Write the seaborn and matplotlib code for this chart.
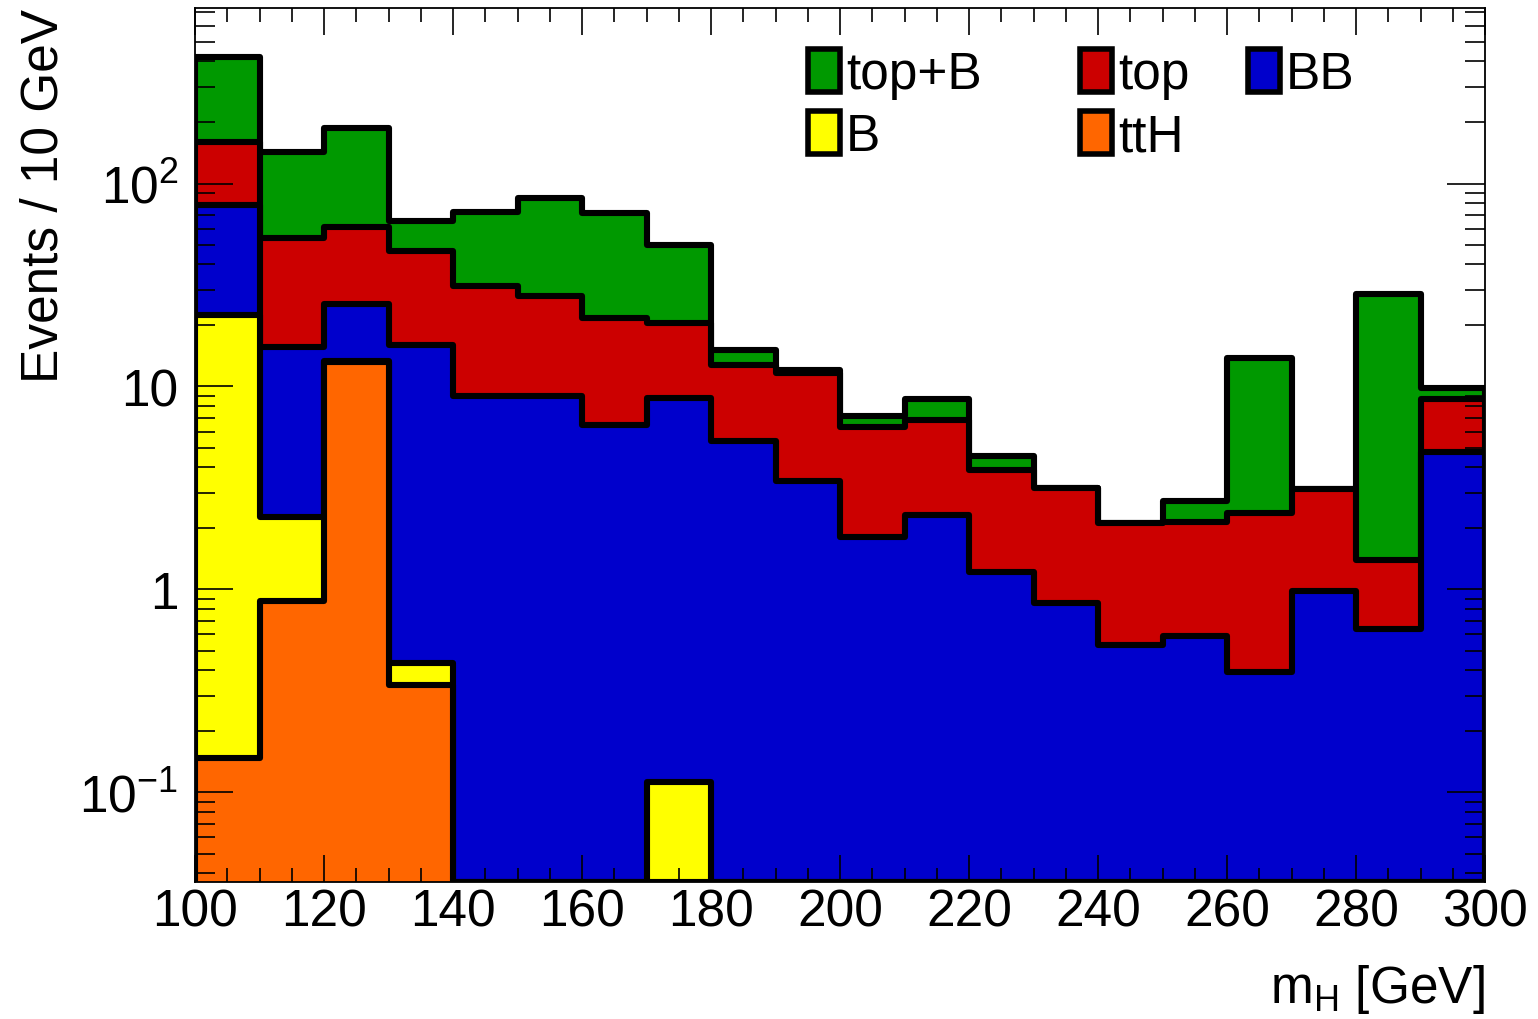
import numpy as np
import pandas as pd
import matplotlib
matplotlib.use("Agg")
import matplotlib.pyplot as plt
import matplotlib.patches as mpatches
from matplotlib.legend import Legend
from matplotlib.ticker import FixedLocator, FixedFormatter, MultipleLocator, LogLocator, NullFormatter
import seaborn as sns

# ---------------- data (events per 10 GeV bin, 100-300 GeV) ----------------
bin_edges = [100, 110, 120, 130, 140, 150, 160, 170, 180, 190, 200,
             210, 220, 230, 240, 250, 260, 270, 280, 290, 300]

ttH   = [0.148, 0.88, 13.2, 0.34, 0, 0, 0, 0, 0, 0,
         0, 0, 0, 0, 0, 0, 0, 0, 0, 0]
B     = [22.4, 1.39, 0.1, 0.094, 0, 0, 0, 0.112, 0, 0,
         0, 0, 0, 0, 0, 0, 0, 0, 0, 0]
BB    = [55.5, 13.4, 12.2, 15.5, 9.0, 9.0, 6.46, 8.64, 5.41, 3.44,
         1.81, 2.33, 1.22, 0.855, 0.533, 0.592, 0.391, 0.98, 0.639, 4.74]
top   = [82.0, 38.3, 35.5, 30.5, 22.4, 18.8, 15.4, 11.75, 7.39, 8.16,
         4.49, 4.53, 2.67, 2.31, 1.60, 1.55, 1.99, 2.15, 0.75, 3.96]
top_B = [260.0, 89.0, 126.0, 19.2, 40.6, 57.1, 50.1, 29.3, 2.3, 0.45,
         0.88, 1.82, 0.64, 0.0, 0.0, 0.58, 11.4, 0.0, 27.3, 1.15]

stack_names = ["ttH", "B", "BB", "top", "top+B"]          # bottom -> top
stack_values = [ttH, B, BB, top, top_B]
colors = {"top+B": "#009900", "top": "#cc0000", "BB": "#0000cc",
          "B": "#ffff00", "ttH": "#ff6600"}
legend_columns = [["top+B", "B"], ["top", "ttH"], ["BB"]]

y_tick_values = [0.1, 1, 10, 100]
y_tick_labels = [r"$\mathregular{10^{-1}}$", "1", "10", r"$\mathregular{10^{2}}$"]

# ---------------- style ----------------
sns.set_theme(style="ticks")
plt.rcParams["font.family"] = ["Liberation Sans", "DejaVu Sans"]
plt.rcParams["mathtext.fontset"] = "custom"
plt.rcParams["mathtext.rm"] = "Liberation Sans"
plt.rcParams["mathtext.it"] = "Liberation Sans:italic"

W, H = 1538, 1020
fig = plt.figure(figsize=(W / 100, H / 100), dpi=100)
ax_l, ax_r, ax_t, ax_b = 195, 1485, 9.3, 883
ax = fig.add_axes([ax_l / W, 1 - ax_b / H, (ax_r - ax_l) / W, (ax_b - ax_t) / H])
ax.set_yscale("log")
ax.set_axisbelow(False)
ymin, ymax = 0.0362, 730

centers = [0.5 * (a + b) for a, b in zip(bin_edges[:-1], bin_edges[1:])]
cum = np.cumsum(np.array(stack_values, dtype=float), axis=0)

# draw like a ROOT stack: largest (total) first, each filled from the bottom
for i in reversed(range(len(stack_names))):
    name = stack_names[i]
    df = pd.DataFrame({"mH": centers, "w": np.maximum(cum[i], ymin)})
    sns.histplot(data=df, x="mH", weights="w", bins=list(bin_edges), element="step",
                 fill=True, color=colors[name], alpha=1, edgecolor="black",
                 linewidth=4.4, ax=ax)

ax.set_xlim(100, 300)
ax.set_ylim(ymin, ymax)

# ---------------- axes / ticks ----------------
ax.xaxis.set_major_locator(MultipleLocator(20))
ax.xaxis.set_minor_locator(MultipleLocator(5))
ax.yaxis.set_major_locator(FixedLocator(y_tick_values))
ax.yaxis.set_major_formatter(FixedFormatter(y_tick_labels))
ax.yaxis.set_minor_locator(LogLocator(base=10, subs=np.arange(2, 10)))
ax.yaxis.set_minor_formatter(NullFormatter())

ax.tick_params(axis="both", which="both", direction="in", top=True, right=True,
               width=1.2, color="black", labelcolor="black")
ax.tick_params(axis="x", which="major", length=19.5, labelsize=37, pad=4)
ax.tick_params(axis="x", which="minor", length=10)
ax.tick_params(axis="y", which="major", length=27.5, labelsize=37, pad=12)
ax.tick_params(axis="y", which="minor", length=14.5)
for s in ax.spines.values():
    s.set_color("black")
    s.set_linewidth(1.3)
    s.set_zorder(5)

ax.set_xlabel(r"$\mathregular{m_{H}}$ [GeV]", fontsize=37, color="black", loc="right")
ax.set_ylabel("Events / 10 GeV", fontsize=37, color="black", loc="top")
ax.xaxis.set_label_coords(1.0, -0.091)
ax.yaxis.set_label_coords(-0.098, 1.0)

# ---------------- legend (three columns, ROOT-like) ----------------
col_x = [808, 1080, 1248]
for cx, names in zip(col_x, legend_columns):
    handles = [mpatches.Patch(facecolor=colors[n], edgecolor="black", linewidth=4,
                              joinstyle="round") for n in names]
    leg = Legend(ax, handles, names, loc="upper left",
                 bbox_to_anchor=(cx / W, 1 - 50 / H), bbox_transform=fig.transFigure,
                 frameon=False, fontsize=37, handlelength=0.62, handleheight=0.92,
                 handletextpad=0.12, labelspacing=0.22, borderpad=0, borderaxespad=0)
    for t in leg.get_texts():
        t.set_color("black")
    ax.add_artist(leg)

fig.savefig("out.png", dpi=100)
